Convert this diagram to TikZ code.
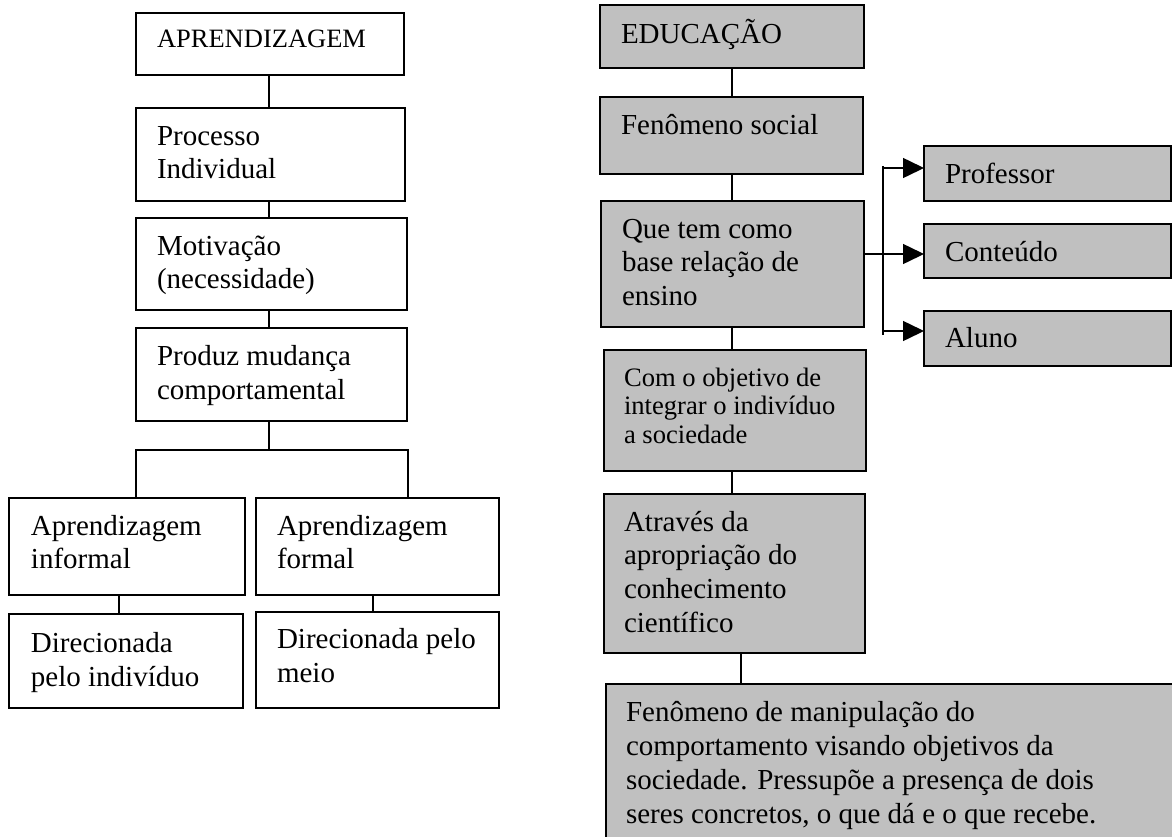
\documentclass[tikz,border=0pt]{standalone}
\usepackage{fontspec}
\setmainfont{Liberation Serif}
\usetikzlibrary{arrows.meta}
\definecolor{boxgray}{RGB}{192,192,192}
% width, height, left pad, first baseline, line skip, text
\newcommand\bxt[6]{\parbox[t][#2pt][t]{#1pt}{\leftskip=#3pt\relax\baselineskip=#5pt\relax\lineskiplimit=-100pt\relax\rule{0pt}{#4pt}#6}}
\tikzset{
  wbox/.style={draw=black, line width=1.5pt, fill=white, inner sep=0pt, outer sep=0pt,
    anchor=north west, font=\fontsize{29}{34}\selectfont},
  gbox/.style={wbox, fill=boxgray},
  smalltxt/.style={font=\fontsize{26.6}{28}\selectfont},
  link/.style={line width=1.5pt, draw=black},
  arr/.style={link, -{Triangle[length=21pt,width=20pt]}}
}
\begin{document}
\begin{tikzpicture}[x=1pt,y=-1pt]
\useasboundingbox (0,0) rectangle (1172,836);
\clip (0,0) rectangle (1172,836);
% left column
\node[wbox, font=\fontsize{26.5}{30}\selectfont] (a1) at (136,13) {\bxt{268}{62}{21}{34}{30}{APRENDIZAGEM}};
\node[wbox] (a2) at (136,108) {\bxt{269}{93}{21}{37}{33.5}{Processo\\Individual}};
\node[wbox] (a3) at (136,218) {\bxt{271}{92}{21}{37}{33.5}{Motivação\\(necessidade)}};
\node[wbox] (a4) at (136,328) {\bxt{271}{93}{21}{37}{34}{Produz mudança\\comportamental}};
\node[wbox] (a5) at (9,498) {\bxt{236}{97}{22}{37}{33.5}{Aprendizagem\\informal}};
\node[wbox] (a6) at (256,498) {\bxt{243}{97}{21}{37}{33.5}{Aprendizagem\\formal}};
\node[wbox] (a7) at (9,614) {\bxt{234}{94}{22}{38}{34}{Direcionada\\pelo indivíduo}};
\node[wbox] (a8) at (256,612) {\bxt{243}{96}{21}{36}{34}{Direcionada pelo\\meio}};
% right column
\node[gbox] (b1) at (600,5) {\bxt{264}{63}{21}{38}{34}{EDUCAÇÃO}};
\node[gbox] (b2) at (600,97) {\bxt{263}{77}{21}{37}{34}{Fenômeno social}};
\node[gbox] (b3) at (601,201) {\bxt{263}{126}{21}{37}{33.5}{Que tem como\\base relação de\\ensino}};
\node[gbox, smalltxt] (b4) at (604,350) {\bxt{262}{121}{20}{36}{28.5}{Com o objetivo de\\integrar o indivíduo\\a sociedade}};
\node[gbox] (b5) at (604,494) {\bxt{261}{159}{20}{37}{33.7}{Através da\\apropriação do\\conhecimento\\científico}};
\node[gbox] (b6) at (606,684) {\bxt{580}{170}{20}{37}{34}{Fenômeno de manipulação do\\comportamento visando objetivos da\\sociedade. Pressupõe a presença de dois\\seres concretos, o que dá e o que recebe.}};
\node[gbox] (c1) at (924,146) {\bxt{247}{55}{21}{37}{34}{Professor}};
\node[gbox] (c2) at (924,224) {\bxt{247}{54}{21}{37}{34}{Conteúdo}};
\node[gbox] (c3) at (924,311) {\bxt{247}{55}{21}{36}{34}{Aluno}};
% helper coordinates
\coordinate (cxa) at (269,0);
\coordinate (cxb) at (732,0);
\coordinate (cxc) at (741,0);
\coordinate (cx5) at (119,0);
\coordinate (cx6) at (373,0);
\coordinate (jl) at (136,450);
\coordinate (jr) at (408,450);
\coordinate (bt) at (883,168);
\coordinate (bm) at (883,254);
\coordinate (bb) at (883,331);
% left connectors
\draw[link] (a1.south -| cxa) -- (a2.north -| cxa);
\draw[link] (a2.south -| cxa) -- (a3.north -| cxa);
\draw[link] (a3.south -| cxa) -- (a4.north -| cxa);
\draw[link] (a4.south -| cxa) -- (jl -| cxa);
\draw[link] (a5.north -| jl) -- (jl) -- (jr) -- (a6.north -| jr);
\draw[link] (a5.south -| cx5) -- (a7.north -| cx5);
\draw[link] (a6.south -| cx6) -- (a8.north -| cx6);
% right connectors
\draw[link] (b1.south -| cxb) -- (b2.north -| cxb);
\draw[link] (b2.south -| cxb) -- (b3.north -| cxb);
\draw[link] (b3.south -| cxb) -- (b4.north -| cxb);
\draw[link] (b4.south -| cxb) -- (b5.north -| cxb);
\draw[link] (b5.south -| cxc) -- (b6.north -| cxc);
\draw[link] ([yshift=2pt]bt) -- ([yshift=-4pt]bb);
\draw[arr] (bt) -- (bt -| c1.west);
\draw[arr] (b3.east |- bm) -- (bm -| c2.west);
\draw[arr] (bb) -- (bb -| c3.west);
\end{tikzpicture}
\end{document}
